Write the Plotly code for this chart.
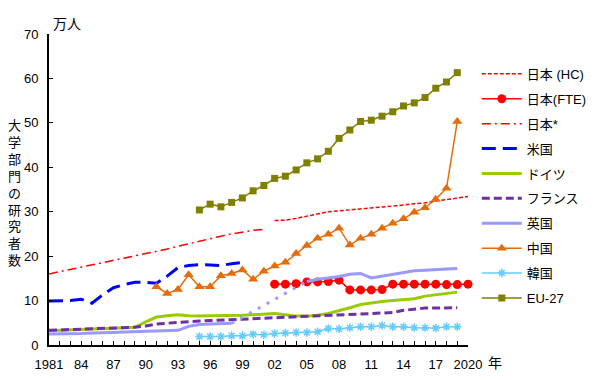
import plotly.graph_objects as go

years = list(range(1981, 2021))

jp_star_years = list(range(1981, 2002))
jp_star = [16.0, 16.5, 17.0, 17.5, 18.0, 18.5, 19.0, 19.6, 20.1, 20.6, 21.1,
           21.6, 22.2, 22.8, 23.3, 23.9, 24.5, 25.0, 25.4, 25.8, 26.0]

jp_hc_years = list(range(2002, 2021))
jp_hc = [28.0, 28.1, 28.5, 29.0, 29.6, 30.0, 30.2, 30.4, 30.6, 30.9,
         31.1, 31.3, 31.5, 31.8, 32.0, 32.4, 32.7, 33.1, 33.4]

jp_fte_years = list(range(2002, 2021))
jp_fte = [13.7, 13.7, 13.8, 14.2, 14.2, 14.3, 14.6, 12.4, 12.4, 12.4,
          12.5, 13.7, 13.7, 13.7, 13.7, 13.7, 13.6, 13.6, 13.7]

us_years = list(range(1981, 2000))
us = [9.9, 10.0, 10.0, 10.3, 9.4, 11.3, 12.9, 13.6, 14.1, 14.1,
      13.9, 15.5, 17.4, 17.9, 18.1, 18.0, 17.9, 18.3, 18.6]

eu_years = list(range(1981, 2020))
germany = [3.2, 3.3, 3.4, 3.5, 3.6, 3.7, 3.8, 3.9, 4.0,
           5.2, 6.3, 6.6, 6.8, 6.6, 6.5, 6.6, 6.6, 6.7, 6.7,
           6.8, 7.0, 7.1, 6.8, 6.5, 6.5, 6.7, 7.1, 7.7, 8.4,
           9.1, 9.5, 9.8, 10.0, 10.2, 10.4, 11.0, 11.3, 11.6, 11.9]
france = [3.3, 3.4, 3.5, 3.6, 3.6, 3.7, 3.8, 3.9, 4.0,
          4.3, 4.7, 4.9, 5.1, 5.3, 5.4, 5.5, 5.6, 5.7, 5.8,
          6.0, 6.1, 6.2, 6.3, 6.4, 6.5, 6.6, 6.7, 6.8, 6.9,
          7.0, 7.0, 7.1, 7.3, 7.8, 8.1, 8.3, 8.3, 8.3, 8.4]
uk = [2.5, 2.5, 2.6, 2.6, 2.7, 2.7, 2.8, 2.9, 3.0,
      3.0, 3.1, 3.2, 3.3, 4.2, 4.6, 4.7, 4.8, 4.9, None,
      None, None, None, None, None, 14.3, 14.8, 15.1, 15.4, 15.9,
      16.1, 15.1, 15.5, 16.0, 16.4, 16.7, 16.8, 17.0, 17.1, 17.2]
uk_bridge_years = [1998, 2005]

cn_years = list(range(1991, 2020))
china = [13.1, 11.6, 12.5, 15.8, 13.1, 13.1, 15.6, 16.1, 16.9,
         14.8, 16.6, 17.8, 18.6, 20.6, 22.4, 24.0, 24.9, 26.3, 22.5,
         24.0, 24.9, 26.3, 27.4, 28.4, 29.9, 30.9, 32.8, 35.3, 50.3]

kr_years = list(range(1995, 2020))
korea = [1.9, 1.9, 1.9, 2.1, 2.1, 2.4, 2.3, 2.6, 2.7, 2.8, 2.8, 3.0, 3.7,
         3.6, 3.9, 4.1, 4.1, 4.4, 4.1, 4.1, 3.9, 3.9, 3.8, 4.1, 4.1]

eu27_years = list(range(1995, 2020))
eu27 = [30.4, 31.7, 31.1, 32.1, 33.1, 34.7, 35.9, 37.5, 38.0, 39.4, 41.0,
        41.9, 43.6, 46.5, 48.4, 50.3, 50.6, 51.5, 52.5, 53.8, 54.5, 55.7,
        57.8, 59.2, 61.3]

tick_years = list(range(1981, 2021, 3))
tick_text = ["1981", "84", "87", "90", "93", "96", "99", "02", "05", "08",
             "11", "14", "17", "2020"]

RED = "#FF0000"
FONT = "Liberation Sans, Arial, Noto Sans CJK JP"

fig = go.Figure()

def add(name, x, y, color, width, dash="solid", marker=None, show=True, group=None):
    mode = "lines+markers" if marker else "lines"
    fig.add_trace(go.Scatter(
        x=x, y=y, name=name, mode=mode,
        line=dict(color=color, width=width, dash=dash),
        marker=marker, showlegend=show, cliponaxis=False,
        legendgroup=group or name, connectgaps=False))

add("日本 (HC)", jp_hc_years, jp_hc, RED, 1.5, "4px,2px")
add("日本(FTE)", jp_fte_years, jp_fte, RED, 1.5,
    marker=dict(symbol="circle", size=9, color=RED))
add("日本*", jp_star_years, jp_star, RED, 1.5, "9px,4px,2px,4px")
add("米国", us_years, us, "#0000FF", 3, "14px,7px")
add("ドイツ", eu_years, germany, "#99CC00", 3)
add("フランス", eu_years, france, "#7030A0", 3, "8px,4px")
add("英国", eu_years, uk, "#9999FF", 3)
# dotted bridge between UK values of 1998 and 2005
bridge_y = [uk[eu_years.index(y)] for y in uk_bridge_years]
add("英国 bridge", uk_bridge_years, bridge_y, "#9999FF", 3, "3px,7px", show=False, group="英国")
add("中国", cn_years, china, "#E46C0A", 1.5,
    marker=dict(symbol="triangle-up", size=9, color="#E46C0A"))
add("韓国", kr_years, korea, "#66CCFF", 1.5,
    marker=dict(symbol="asterisk-open", size=7, color="#66CCFF",
                line=dict(color="#66CCFF", width=1.5)))
add("EU-27", eu27_years, eu27, "#808000", 1.5,
    marker=dict(symbol="square", size=7, color="#808000"))

fig.update_layout(
    width=592, height=372,
    margin=dict(l=41, r=132, t=26, b=35, autoexpand=False),
    paper_bgcolor="white", plot_bgcolor="white",
    font=dict(family=FONT, size=13, color="black"),
    showlegend=True,
    legend=dict(x=1.021, y=0.92, xanchor="left", yanchor="top",
                font=dict(size=13), tracegroupgap=5, itemwidth=40,
                bgcolor="rgba(0,0,0,0)"),
    xaxis=dict(range=[1981, 2020], tickmode="array", tickvals=tick_years,
               ticktext=tick_text, ticks="inside", ticklen=4, tickwidth=1,
               tickcolor="black", showline=True, linecolor="black",
               linewidth=2, showgrid=False, zeroline=False,
               ticklabelstandoff=6, automargin=False,
               minor=dict(ticks="inside", dtick=1, tick0=1981, ticklen=4,
                          tickcolor="black", tickwidth=1, showgrid=False)),
    yaxis=dict(range=[0, 70], dtick=10, ticks="inside", ticklen=4,
               tickwidth=1, tickcolor="black", showline=True,
               linecolor="black", linewidth=2, showgrid=False,
               zeroline=False, ticklabelstandoff=6, automargin=False),
    annotations=[
        dict(text="万人", xref="paper", yref="paper", x=0.005, y=1.0,
             xanchor="left", yanchor="bottom", showarrow=False,
             font=dict(size=14)),
        dict(text="年", xref="paper", yref="paper", x=1.043, y=-0.027,
             xanchor="left", yanchor="top", showarrow=False,
             font=dict(size=14)),
        dict(text="<br>".join(list("大学部門の研究者数")), xref="paper",
             yref="paper", x=-0.0835, y=0.49, xanchor="center", yanchor="middle",
             showarrow=False, font=dict(size=13)),
    ],
)

fig.write_html("out.html")
